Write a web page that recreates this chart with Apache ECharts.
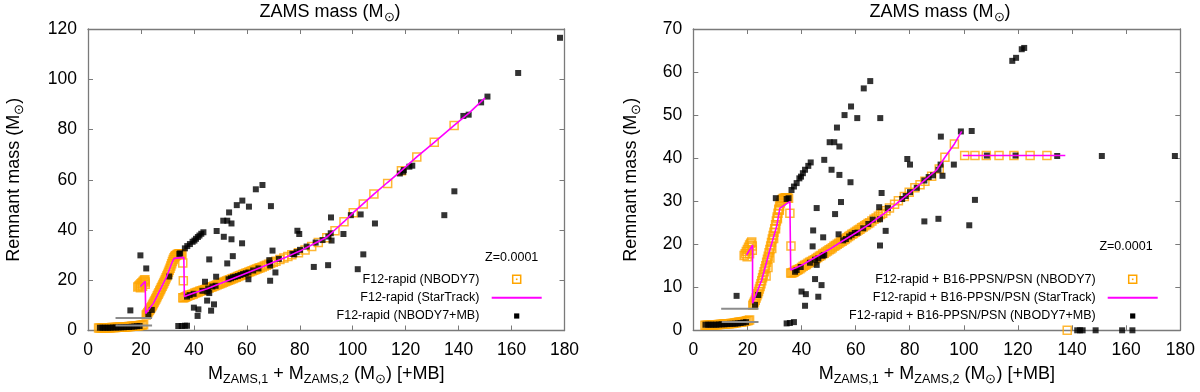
<!DOCTYPE html>
<html>
<head>
<meta charset="utf-8">
<script src="https://cdn.jsdelivr.net/npm/echarts@6/dist/echarts.min.js"></script>
<style>html,body{margin:0;padding:0;background:#fff}#c{width:1200px;height:392px}</style>
</head>
<body>
<div id="c"></div>
<script>
// ---------------- DATA ----------------
const xTicksMax = 180, xTickStep = 20;
const yLeftMax = 120, yLeftStep = 20;
const yRightMax = 70, yRightStep = 10;

const legendNames = ['F12-rapid (NBODY7)', 'F12-rapid (StarTrack)', 'F12-rapid (NBODY7+MB)'];
const legendNamesRight = ['F12-rapid + B16-PPSN/PSN (NBODY7)', 'F12-rapid + B16-PPSN/PSN (StarTrack)', 'F12-rapid + B16-PPSN/PSN (NBODY7+MB)'];
const metallicityLabel = 'Z=0.0001';

// Left panel: NBODY7 (open orange squares)
const nbody7Left = [
[4,1.0],[4.5,1.0],[5,1.0],[5.5,1.0],[6,1.0],[6.5,1.05],[7,1.05],[7.5,1.1],[8,1.1],[8.5,1.1],[9,1.15],[9.5,1.15],[10,1.2],[10.5,1.2],[11,1.25],[11.5,1.25],[12,1.3],[12.5,1.3],[13,1.35],[13.5,1.4],[14,1.4],[14.5,1.45],[15,1.5],[15.5,1.55],[16,1.6],[16.5,1.65],[17,1.7],[17.5,1.75],[18,1.8],[18.5,1.85],[19,1.9],[19.5,2.0],[20,2.1],[20.5,2.2],[21,2.3],
[18.8,17.3],[19.2,17.7],[19.6,18.1],[20.0,18.6],[20.4,19.0],[20.8,19.5],[21.2,19.9],[21.5,20.2],[21.6,19.3],[21.6,18.4],[20.6,17.6],[19.8,17.0],
[22.0,6.2],[22.3,6.6],[22.6,7.1],[22.9,7.6],[23.2,8.1],[23.5,8.6],[23.8,9.1],[24.1,9.6],[24.4,10.1],[24.7,10.7],[25.0,11.3],[25.3,11.9],[25.6,12.5],[25.9,13.1],[26.2,13.8],[26.5,14.4],[26.8,15.0],[27.1,15.7],[27.4,16.3],[27.7,17.0],[28.0,17.6],[28.3,18.3],[28.6,18.9],[28.9,19.6],[29.2,20.3],[29.5,21.0],[29.8,21.7],[30.1,22.4],[30.4,23.2],[30.7,24.0],[31.0,24.8],[31.3,25.7],[31.6,26.6],[31.9,27.5],[32.2,28.3],[32.5,29.0],[32.8,29.5],[33.1,29.8],[33.4,30.0],[33.7,30.2],[34.0,30.3],[34.3,30.4],[34.6,30.5],[34.9,30.5],[35.2,30.5],[35.5,30.4],
[35.8,26.9],[36.0,19.8],
[35.8,13.0],[36.2,13.0],[36.6,13.2],[37.0,13.4],[37.4,13.6],[37.8,13.8],[38.2,14.0],
[38.6,14.1],[39.2,14.3],[39.8,14.5],[40.4,14.9],[41.0,15.1],[41.6,15.3],[42.2,15.6],[42.8,15.8],[43.4,16.0],[44.0,16.2],[44.6,16.4],[45.2,16.7],[45.8,16.9],[46.4,17.2],[47.0,17.4],[47.6,17.7],[48.2,17.9],[48.8,18.2],[49.4,18.4],[50.0,18.7],[50.6,18.9],[51.2,19.2],[51.8,19.5],[52.4,19.7],[53.0,20.0],[53.6,20.2],[54.2,20.5],[54.8,20.7],[55.4,21.0],[56.0,21.2],[56.6,21.5],[57.2,21.8],[57.8,22.0],[58.4,22.3],[59.0,22.5],[59.6,22.8],[60.2,23.0],[60.8,23.3],[61.4,23.5],[62.0,23.8],[62.6,24.0],[63.2,24.3],[63.8,24.5],[64.4,24.8],[65.0,25.0],[65.8,25.3],[66.6,25.7],[67.4,26.0],[68.2,26.4],[69.0,26.8],[70.0,27.2],
[71.0,27.6],[72.5,28.3],[74.0,28.9],[75.5,29.5],[77.0,30.1],[79.5,30.9],[82.0,32.0],[84.5,33.4],[87.0,35.0],[90.2,36.9],[93.3,39.7],[96.7,43.3],[100.2,46.9],[104.0,50.3],[108.0,54.3],[113.2,58.5],[118.4,63.6],[124.2,69.1],[130.8,74.9],[138.3,81.6]
];

// Left panel: StarTrack (magenta line)
const startrackLeft = [
[19.8,17.5],[21.6,19.6],[21.8,6.8],[24.7,10.8],[27.2,16.1],[29.7,21.4],[31.6,26.7],[32.5,28.7],[36.2,29.1],[36.4,13.5],[40,14.9],[45,16.6],[50,18.7],[55,20.8],[60,22.9],[65,25.0],[70,27.2],[75,29.3],[80,31.6],[85,34.3],[90,37.0],[93,39.8],[96.7,43.3],[100.2,46.9],[104,50.5],[108,54.3],[113,58.8],[118.4,63.6],[124.2,69.1],[130.8,74.9],[138.3,81.6],[144,86.6],[150,92.6]
];

// Left panel: NBODY7+MB (filled black squares)
const mbLeft = [
[4.5,1.1],[5.5,1.1],[6.5,1.1],[7.5,1.1],[8.5,1.1],[9.5,1.2],[10.5,1.2],[11.5,1.2],[12.5,1.3],[13.5,1.3],[14.5,1.4],[15.5,1.4],[16.5,1.5],[17.5,1.6],[18.5,1.7],[19.5,1.8],
[16.0,8.0],[19.8,29.9],[22.0,24.7],[22.8,6.2],[24.1,8.2],[30.7,21.5],[34.5,30.5],[34.8,30.7],[34.1,1.8],[35.4,1.8],[36.6,1.9],[37.4,1.9],
[36.6,32.7],[37.5,33.6],[38.5,34.4],[39.5,35.3],[40.2,35.8],[40.8,36.5],[41.5,37.2],[42.1,37.8],[42.8,38.5],[43.6,39.1],
[37.4,13.5],[38.4,14.1],[39.9,14.6],[43.2,15.8],[45.1,15.5],[45.8,14.9],[45.4,16.7],[47.0,17.5],[48.2,17.8],[53.1,20.4],[54.0,20.8],[54.8,21.2],[55.6,21.4],[56.6,21.7],[57.6,22.1],[58.6,22.5],[59.6,22.8],[60.6,23.1],[60.6,20.4],[62.4,23.9],[64.4,24.7],[68.6,26.8],
[40.0,9.1],[41.7,8.4],[41.4,5.8],[45.0,11.9],[46.5,7.9],[47.6,10.4],[44.2,19.4],[45.8,28.3],[48.4,21.4],[48.6,39.6],[51.1,43.7],[52.6,43.7],[53.3,47.0],[51.3,37.3],[54.2,36.3],[52.6,26.7],[54.7,29.6],[54.2,42.6],[56.2,49.9],[58.3,51.7],[60.8,49.3],[63.4,56.2],[65.9,57.9],[58.2,34.7],[68.5,28.0],
[69.1,49.5],[69.7,31.8],[70.8,23.1],[68.8,19.8],[72.1,28.5],[68.8,25.9],
[77.2,30.5],[77.9,30.3],[78.8,31.2],[80.1,32.1],[82.6,33.4],[86.0,35.0],[88.6,36.0],[90.8,37.4],[92.0,35.8],[91.7,38.7],[91.8,45.0],[96.5,38.4],[79.1,39.7],[79.8,38.4],[85.3,25.3],[90.7,26.0],[99.3,45.9],[103.0,46.2],[108.4,42.6],[104.0,30.3],[101.9,24.4],
[117.8,62.5],[119.1,63.2],[119.3,63.9],[121.4,65.2],[122.5,65.6],[134.6,45.9],[138.4,55.4],[141.8,85.4],[143.8,85.9],[148.5,90.8],[150.9,93.1],[162.5,102.5],[178.3,116.5]
];

const greyLeftA = [[10.4,5.0],[24.2,5.0]];
const greyLeftB = [[10.4,2.0],[24.2,2.0]];

// Right panel: NBODY7 (open orange squares)
const nbody7Right = [
[4.3,1.2],[4.8,1.2],[5.3,1.2],[5.8,1.2],[6.3,1.2],[6.8,1.25],[7.3,1.25],[7.8,1.3],[8.3,1.3],[8.8,1.3],[9.3,1.35],[9.8,1.35],[10.3,1.4],[10.8,1.4],[11.3,1.45],[11.8,1.45],[12.3,1.5],[12.8,1.5],[13.3,1.55],[13.8,1.6],[14.3,1.6],[14.8,1.65],[15.3,1.7],[15.8,1.75],[16.3,1.8],[16.8,1.85],[17.3,1.9],[17.8,1.95],[18.3,2.0],[18.8,2.05],[19.3,2.1],[19.8,2.2],[20.3,2.3],[20.8,2.4],
[18.8,17.4],[19.2,17.8],[19.6,18.3],[20.0,18.8],[20.4,19.3],[20.8,19.8],[21.2,20.2],[21.6,20.5],[21.8,19.6],[21.8,18.6],[20.8,17.8],[19.9,17.1],
[22.0,5.8],[22.3,6.2],[22.6,6.6],[22.9,7.0],[23.2,7.5],[23.5,8.0],[23.8,8.5],[24.1,9.0],[24.4,9.6],[24.7,10.2],[25.0,10.8],[25.3,11.5],[25.6,12.2],[25.9,12.9],[26.2,13.6],[26.5,14.3],[26.8,15.0],[27.1,15.8],[27.4,16.5],[27.7,17.2],[28.0,18.0],[28.3,18.8],[28.6,19.6],[28.9,20.4],[29.2,21.2],[29.5,22.0],[29.8,22.8],[30.1,23.6],[30.4,24.5],[30.7,25.4],[31.0,26.3],[31.3,27.2],[31.6,28.1],[31.9,28.9],[32.2,29.6],[32.5,30.1],[32.8,30.4],[33.2,30.6],[33.6,30.7],[34.0,30.8],[34.4,30.8],[34.8,30.8],[35.2,30.7],
[26.9,12.6],[27.6,14.6],[28.3,16.8],[29.0,19.0],[29.7,21.3],[30.4,23.6],[31.1,25.9],[31.8,27.9],
[35.7,27.2],[36.1,19.6],
[36.0,13.3],[36.4,13.3],[36.8,13.4],[37.2,13.5],[37.6,13.7],[38.0,13.9],[38.4,14.0],
[38.8,14.1],[39.4,14.3],[40.0,14.6],[40.6,14.9],[41.2,15.1],[41.8,15.3],[42.4,15.6],[43.0,15.8],[43.6,16.0],[44.2,16.2],[44.8,16.4],[45.4,16.7],[46.0,16.9],[46.6,17.2],[47.2,17.4],[47.8,17.7],[48.4,17.9],[49.0,18.2],[49.6,18.4],[50.2,18.7],[50.8,18.9],[51.4,19.2],[52.0,19.5],[52.6,19.7],[53.2,20.0],[53.8,20.2],[54.4,20.5],[55.0,20.7],[55.6,21.0],[56.2,21.2],[56.8,21.5],[57.4,21.8],[58.0,22.0],[58.6,22.3],[59.2,22.5],[59.8,22.8],[60.4,23.0],[61.0,23.3],[61.6,23.5],[62.2,23.8],[62.8,24.0],[63.4,24.3],[64.0,24.5],[64.6,24.8],[65.2,25.0],[66.0,25.4],[66.8,25.8],[67.6,26.1],[68.4,26.5],[69.2,26.9],[70.0,27.2],
[71.2,27.8],[72.5,28.4],[74.4,29.3],[75.8,30.1],[78.0,31.1],[79.8,32.1],[81.9,33.1],[83.8,33.8],[85.6,34.6],[88.1,35.8],[90.9,37.5],[93.0,40.2],[96.5,43.3],
[100.3,40.6],[104.1,40.6],[108.3,40.6],[113.0,40.6],[118.5,40.6],[124.5,40.6],[130.7,40.6],[138.2,0]
];

// Right panel: StarTrack (magenta line, two pieces)
const startrackRightA = [
[19.7,17.5],[21.9,19.8],[21.9,6.3],[25.3,11.7],[28.3,18.7],[30.8,24.1],[32.0,28.4],[35.7,29.9],[36.0,14.0],[40,15.1],[45,16.9],[50,18.7],[55,20.7],[60,22.6],[65,24.6],[70,26.9],[75,29.4],[80,31.9],[85,34.6],[90,37.3],[93,40.2],[96.5,43.3],[99.2,46.2]
];
const startrackRightB = [[99.6,40.6],[137.5,40.6]];

// Right panel: NBODY7+MB (filled black squares)
const mbRight = [
[4.5,1.3],[5.5,1.3],[6.5,1.3],[7.5,1.3],[8.5,1.3],[9.5,1.35],[10.5,1.4],[11.5,1.4],[12.5,1.45],[13.5,1.5],[14.5,1.5],[15.5,1.55],[16.5,1.6],[17.5,1.7],[18.5,1.8],[19.5,1.9],
[16.0,8.0],[22.8,5.9],[24.0,8.2],[30.5,30.7],[34.5,30.5],[35.2,30.7],[34.5,1.6],[35.7,1.7],[37.2,1.9],
[36.3,32.6],[37.2,33.4],[38.2,34.2],[39.2,35.3],[39.8,35.7],[40.5,36.5],[41.3,37.3],[42.5,38.2],[43.4,39.0],
[48.4,39.6],[51.1,37.3],[54.0,36.1],[58.1,34.4],[54.6,29.8],[52.4,27.0],[45.6,28.4],[44.3,23.2],[48.0,21.6],[44.1,19.5],[69.6,31.9],[68.7,28.6],[71.1,23.1],[69.0,19.7],[40.0,9.0],[41.6,8.4],[41.3,5.7],[45.0,11.9],[47.4,10.5],[46.2,7.8],
[37.6,13.6],[38.2,14.0],[39.7,14.7],[43.1,15.7],[45.0,16.4],[45.6,15.2],[46.2,16.7],[47.8,17.3],[48.4,17.5],[53.7,22.3],[55.4,20.9],[56.4,21.2],[57.6,21.8],[58.5,22.2],[59.7,22.6],[60.7,22.7],[62.8,23.7],[64.7,24.7],[66.3,25.7],[69.0,25.8],[71.9,28.4],
[50.4,43.7],[52.1,43.7],[53.1,47.1],[54.0,42.7],[55.9,50.0],[58.3,52.0],[60.6,49.3],[63.0,56.2],[65.4,57.9],[69.1,49.3],
[77.2,30.5],[78.5,31.2],[80.1,32.1],[82.6,33.1],[85.4,34.8],[87.0,35.6],[88.6,36.0],[90.6,37.3],[92.1,35.9],[91.4,38.5],[79.1,39.8],[80.1,38.5],[91.5,45.0],[96.3,38.5],[85.4,25.3],[90.6,25.9],[98.9,46.2],[102.9,46.3],[102.0,24.4],[104.1,30.3],[108.5,40.6],[119.1,40.6],
[117.9,62.6],[119.3,63.3],[121.4,65.3],[122.3,65.6],[134.5,40.5],[151.0,40.5],[178.0,40.5],
[141.9,0],[142.9,0],[143.9,0],[148.7,0],[158.5,0],[162.3,0]
];

const greyRightA = [[10.3,5.0],[24.1,5.0]];
const greyRightB = [[10.5,1.9],[24.1,1.9]];

// ---------------- STYLE ----------------
const FONT = '"Liberation Sans", Arial, sans-serif';
const ORANGE = '#FFA500', MAGENTA = '#FF00FF', BORDER = '#7a7a7a', GREY = '#8c8c8c';

const grids = [
  {left: 88, top: 29, width: 476.5, height: 301.5},
  {left: 693.3, top: 29, width: 487, height: 301.3}
];

function richSet(big, small, lh, slh) {
  return {
    n: {fontSize: big, fontFamily: FONT, fontWeight: 'normal', color: '#000', lineHeight: lh, verticalAlign: 'middle'},
    s: {fontSize: small, fontFamily: FONT, fontWeight: 'normal', color: '#000', lineHeight: slh, verticalAlign: 'bottom'}
  };
}
const subRich = richSet(18, 12.5, 24, 13);
const subRichY = richSet(18, 12.5, 24, 13);
const subRichT = richSet(18, 12.5, 24, 13);

const xName = '{n|M}{s|ZAMS,1}{n| + M}{s|ZAMS,2}{n| (M}{s|⊙}{n|) [+MB]}';
const yName = '{n|Remnant mass (M}{s|⊙}{n|)}';
const topTitle = '{n|ZAMS mass (M}{s|⊙}{n|)}';

function xAx(grid, pos) {
  const main = pos === 'bottom';
  return {
    gridIndex: grid, type: 'value', min: 0, max: xTicksMax, interval: xTickStep, position: pos,
    axisLine: {show: true, onZero: false, lineStyle: {color: BORDER, width: 1.3}},
    axisTick: {show: true, inside: true, length: 5, lineStyle: {color: BORDER, width: 1}},
    axisLabel: {show: main, margin: 11, fontSize: 17.5, fontFamily: FONT, color: '#000'},
    splitLine: {show: false},
    name: main ? xName : '', nameLocation: 'middle', nameGap: 32,
    nameTextStyle: {rich: subRich}
  };
}
function yAx(grid, pos, max, step, gap) {
  const main = pos === 'left';
  return {
    gridIndex: grid, type: 'value', min: 0, max: max, interval: step, position: pos,
    axisLine: {show: true, onZero: false, lineStyle: {color: BORDER, width: 1.3}},
    axisTick: {show: true, inside: true, length: 5, lineStyle: {color: BORDER, width: 1}},
    axisLabel: {show: main, margin: 11, fontSize: 17.5, fontFamily: FONT, color: '#000'},
    splitLine: {show: false},
    name: main ? yName : '', nameLocation: 'middle', nameGap: gap,
    nameTextStyle: {rich: subRichY}
  };
}

function openSq(data, xi, yi) {
  return {type: 'scatter', xAxisIndex: xi, yAxisIndex: yi, data: data, symbol: 'rect', symbolSize: 8,
    clip: false, silent: true,
    itemStyle: {color: 'rgba(0,0,0,0)', borderColor: ORANGE, borderWidth: 1.5}};
}
function fillSq(data, xi, yi) {
  return {type: 'scatter', xAxisIndex: xi, yAxisIndex: yi, data: data, symbol: 'rect', symbolSize: 6,
    clip: false, silent: true, itemStyle: {color: '#000'}};
}
function ln(data, xi, yi, color, w) {
  return {type: 'line', xAxisIndex: xi, yAxisIndex: yi, data: data, symbol: 'none', showSymbol: false,
    silent: true, lineStyle: {color: color, width: w}, itemStyle: {color: color}};
}

function legendGraphic(names, textRight, keyX, zX, zY) {
  const ys = [279.3, 297.7, 316];
  const els = [];
  names.forEach((nm, i) => {
    els.push({type: 'text', x: textRight, y: ys[i], style: {text: nm, font: '12.5px ' + FONT, fill: '#000', align: 'right', verticalAlign: 'middle'}});
  });
  els.push({type: 'rect', shape: {x: keyX - 4, y: ys[0] - 4, width: 8, height: 8}, style: {fill: 'none', stroke: ORANGE, lineWidth: 1.5}});
  els.push({type: 'rect', shape: {x: keyX - 0.8, y: ys[0] - 0.8, width: 1.6, height: 1.6}, style: {fill: ORANGE}});
  els.push({type: 'line', shape: {x1: keyX - 25, y1: ys[1], x2: keyX + 25, y2: ys[1]}, style: {stroke: MAGENTA, lineWidth: 2}});
  els.push({type: 'rect', shape: {x: keyX - 2.6, y: ys[2] - 2.6, width: 5.2, height: 5.2}, style: {fill: '#000'}});
  els.push({type: 'text', x: zX, y: zY, style: {text: metallicityLabel, font: '12.5px ' + FONT, fill: '#000', align: 'center', verticalAlign: 'middle'}});
  return els;
}

const chart = echarts.init(document.getElementById('c'), null, {renderer: 'canvas'});
chart.setOption({
  animation: false,
  backgroundColor: '#fff',
  title: [
    {text: topTitle, left: 330, top: 0, padding: 0, textAlign: 'center', textStyle: {fontWeight: 'normal', rich: subRichT}},
    {text: topTitle, left: 940, top: 0, padding: 0, textAlign: 'center', textStyle: {fontWeight: 'normal', rich: subRichT}}
  ],
  grid: grids,
  xAxis: [xAx(0, 'bottom'), xAx(0, 'top'), xAx(1, 'bottom'), xAx(1, 'top')],
  yAxis: [yAx(0, 'left', yLeftMax, yLeftStep, 62), yAx(0, 'right', yLeftMax, yLeftStep, 0),
          yAx(1, 'left', yRightMax, yRightStep, 50), yAx(1, 'right', yRightMax, yRightStep, 0)],
  series: [
    openSq(nbody7Left, 0, 0),
    ln(greyLeftA, 0, 0, GREY, 2),
    ln(greyLeftB, 0, 0, GREY, 2),
    ln(startrackLeft, 0, 0, MAGENTA, 1.6),
    fillSq(mbLeft, 0, 0),
    openSq(nbody7Right, 2, 2),
    ln(greyRightA, 2, 2, GREY, 2),
    ln(greyRightB, 2, 2, GREY, 2),
    ln(startrackRightA, 2, 2, MAGENTA, 1.6),
    ln(startrackRightB, 2, 2, MAGENTA, 1.6),
    fillSq(mbRight, 2, 2)
  ],
  graphic: legendGraphic(legendNames, 479.3, 516.7, 511.7, 257.3).concat(legendGraphic(legendNamesRight, 1095.7, 1132.7, 1126, 246.7))
});
</script>
</body>
</html>
